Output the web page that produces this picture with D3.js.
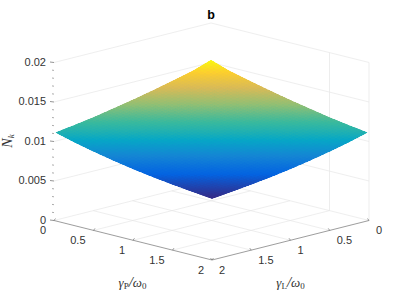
<!DOCTYPE html>
<html>
<head>
<meta charset="utf-8">
<script src="https://cdn.jsdelivr.net/npm/d3@7"></script>
<style>
  html, body { margin: 0; padding: 0; background: #fff; }
  svg { display: block; }
</style>
</head>
<body>
<div id="chart"></div>
<script>
// surface grid
const gammaP = [0.02, 0.25, 0.5, 0.75, 1, 1.25, 1.5, 1.75, 2];
const gammaL = [0.02, 0.25, 0.5, 0.75, 1, 1.25, 1.5, 1.75, 2];
// Nk[i][j]: row = gammaP, column = gammaL
const Nk = [
  [0.01542, 0.01464, 0.01402, 0.01343, 0.01290, 0.01240, 0.01194, 0.01153, 0.01118],
  [0.01464, 0.01402, 0.01343, 0.01290, 0.01240, 0.01194, 0.01153, 0.01114, 0.01055],
  [0.01402, 0.01343, 0.01290, 0.01240, 0.01194, 0.01153, 0.01114, 0.01055, 0.00999],
  [0.01343, 0.01290, 0.01240, 0.01194, 0.01153, 0.01114, 0.01055, 0.00999, 0.00948],
  [0.01290, 0.01240, 0.01194, 0.01153, 0.01114, 0.01055, 0.00999, 0.00948, 0.00902],
  [0.01240, 0.01194, 0.01153, 0.01114, 0.01055, 0.00999, 0.00948, 0.00902, 0.00863],
  [0.01194, 0.01153, 0.01114, 0.01055, 0.00999, 0.00948, 0.00902, 0.00863, 0.00830],
  [0.01153, 0.01114, 0.01055, 0.00999, 0.00948, 0.00902, 0.00863, 0.00830, 0.00802],
  [0.01118, 0.01055, 0.00999, 0.00948, 0.00902, 0.00863, 0.00830, 0.00802, 0.00776]
];
const xyTicks = [0, 0.5, 1, 1.5, 2];
const xyTickLabels = ['0', '0.5', '1', '1.5', '2'];
const zTicks = [0, 0.005, 0.01, 0.015, 0.02];
const zTickLabels = ['0', '0.005', '0.01', '0.015', '0.02'];
const zMinorTicks = [0.001, 0.002, 0.003, 0.004, 0.006, 0.007, 0.008, 0.009, 0.011, 0.012, 0.013, 0.014, 0.016, 0.017, 0.018, 0.019];
const wallVerticals = [1.5, 2];
const parula = ['#352a87', '#0363e1', '#1485d4', '#06a7c6', '#38b99e', '#92bf73', '#d9ba56', '#fcce2e', '#f9fb0e'];

const svg = d3.select('#chart')
  .append('svg')
  .attr('width', 407)
  .attr('height', 305);

// oblique 3D box: back corner is gammaP = gammaL = 0, z = 0
const pX = d3.scaleLinear().domain([0, 2]).range([0, 158]);
const pY = d3.scaleLinear().domain([0, 2]).range([0, 39.5]);
const lX = d3.scaleLinear().domain([0, 2]).range([0, -157]);
const lY = d3.scaleLinear().domain([0, 2]).range([0, 39.5]);
const zY = d3.scaleLinear().domain([0, 0.02]).range([0, -158]);
const project = (p, l, z) => [211 + pX(p) + lX(l), 181 + pY(p) + lY(l) + zY(z)];

const drawLine = (a, b, color, w) => svg.append('line')
  .attr('x1', a[0]).attr('y1', a[1])
  .attr('x2', b[0]).attr('y2', b[1])
  .attr('stroke', color)
  .attr('stroke-width', w);

const gridColor = '#e2e2e2';

// back walls
zTicks.forEach(z => {
  drawLine(project(0, 0, z), project(0, 2, z), gridColor, 0.6);
  drawLine(project(0, 0, z), project(2, 0, z), gridColor, 0.6);
});
wallVerticals.forEach(p => {
  drawLine(project(p, 0, 0), project(p, 0, 0.02), '#e8e8e8', 0.8);
});

// floor
[0.5, 1, 1.5].forEach(t => {
  drawLine(project(t, 0, 0), project(t, 2, 0), gridColor, 0.6);
  drawLine(project(0, t, 0), project(2, t, 0), gridColor, 0.6);
});

// surface, shaded smoothly across each cell
const zFlat = Nk.flat();
const color = d3.scaleLinear()
  .domain(parula.map((c, i) => d3.min(zFlat) + (d3.max(zFlat) - d3.min(zFlat)) * i / (parula.length - 1)))
  .range(parula)
  .interpolate(d3.interpolateRgb);

// outline keeps the edge smooth, the cells inside are drawn crisp so no seams show
const last = gammaP.length - 1;
const outline = [];
gammaP.forEach((p, i) => outline.push(project(p, gammaL[0], Nk[i][0])));
gammaL.forEach((l, j) => outline.push(project(gammaP[last], l, Nk[last][j])));
gammaP.slice().reverse().forEach((p, i) => outline.push(project(p, gammaL[last], Nk[last - i][last])));
gammaL.slice().reverse().forEach((l, j) => outline.push(project(gammaP[0], l, Nk[0][last - j])));

svg.append('clipPath')
  .attr('id', 'surface-clip')
  .append('polygon')
  .attr('points', outline.map(d => d.join(',')).join(' '));

const sub = 6;
const surface = svg.append('g')
  .attr('clip-path', 'url(#surface-clip)')
  .append('g')
  .attr('shape-rendering', 'crispEdges');
for (let i = 0; i < gammaP.length - 1; i++) {
  for (let j = 0; j < gammaL.length - 1; j++) {
    const at = (u, v) => {
      const p = gammaP[i] + (gammaP[i + 1] - gammaP[i]) * u;
      const l = gammaL[j] + (gammaL[j + 1] - gammaL[j]) * v;
      const z = (Nk[i][j] * (1 - u) + Nk[i + 1][j] * u) * (1 - v) +
                (Nk[i][j + 1] * (1 - u) + Nk[i + 1][j + 1] * u) * v;
      return { pos: project(p, l, z), z };
    };
    for (let a = 0; a < sub; a++) {
      for (let b = 0; b < sub; b++) {
        const c = color(at((a + 0.5) / sub, (b + 0.5) / sub).z);
        const pts = [[a, b], [a + 1, b], [a + 1, b + 1], [a, b + 1]]
          .map(q => at(q[0] / sub, q[1] / sub).pos.join(','))
          .join(' ');
        surface.append('polygon')
          .attr('points', pts)
          .attr('fill', c)
          .attr('stroke', c)
          .attr('stroke-width', 1.5);
      }
    }
  }
}

// front axes
const axisColor = '#5a5a5a';
drawLine(project(0, 2, 0), project(2, 2, 0), axisColor, 0.6);
drawLine(project(2, 0, 0), project(2, 2, 0), axisColor, 0.6);

const tickFont = 'Liberation Sans, Arial, sans-serif';
const tickText = (x, y, label, anchor) => svg.append('text')
  .attr('x', x)
  .attr('y', y)
  .attr('text-anchor', anchor)
  .attr('dominant-baseline', 'central')
  .style('font-family', tickFont)
  .style('font-size', '11px')
  .style('fill', '#333')
  .text(label);

xyTicks.forEach((t, i) => {
  const a = project(t, 2, 0);
  drawLine(a, [a[0] + 1.5, a[1] - 2], axisColor, 0.6);
  tickText(a[0] - 8, a[1] + 9.5, xyTickLabels[i], 'end');
  const b = project(2, t, 0);
  drawLine(b, [b[0] - 1.5, b[1] - 2], axisColor, 0.6);
  tickText(b[0] + 7, b[1] + 9.5, xyTickLabels[i], 'start');
});

// z axis ticks on the left corner
zTicks.forEach((z, i) => {
  const a = project(0, 2, z);
  drawLine(a, [a[0] - 4, a[1] - 0.5], '#666', 0.7);
  tickText(46, a[1] - 1, zTickLabels[i], 'end');
});
zMinorTicks.forEach(z => {
  const a = project(0, 2, z);
  drawLine(a, [a[0] - 2, a[1] - 0.3], '#888', 0.7);
});

// axis labels
const mathLabel = (x, y, parts, rotate) => {
  const t = svg.append('text')
    .attr('transform', `translate(${x},${y})` + (rotate ? ` rotate(${rotate})` : ''))
    .attr('text-anchor', 'middle')
    .style('font-family', 'Liberation Serif, serif')
    .style('fill', '#333');
  parts.forEach(p => {
    t.append('tspan')
      .attr('dy', p.dy || 0)
      .style('font-size', p.size + 'px')
      .style('font-style', p.italic ? 'italic' : 'normal')
      .text(p.s);
  });
};

const ratioLabel = name => [
  { s: '\u03b3', size: 13, italic: true },
  { s: name, size: 9, dy: 2 },
  { s: '/', size: 15, italic: true, dy: -2 },
  { s: '\u03c9', size: 13, italic: true },
  { s: '0', size: 9, dy: 2 }
];
mathLabel(132.5, 287, ratioLabel('P'));
mathLabel(290.5, 287, ratioLabel('L'));
mathLabel(12, 141, [
  { s: 'N', size: 14, italic: true },
  { s: 'k', size: 9, italic: true, dy: 2 }
], -90);

svg.append('text')
  .attr('x', 211)
  .attr('y', 18.5)
  .attr('text-anchor', 'middle')
  .style('font-family', tickFont)
  .style('font-size', '12.5px')
  .style('font-weight', 'bold')
  .style('fill', '#000')
  .text('b');
</script>
</body>
</html>
